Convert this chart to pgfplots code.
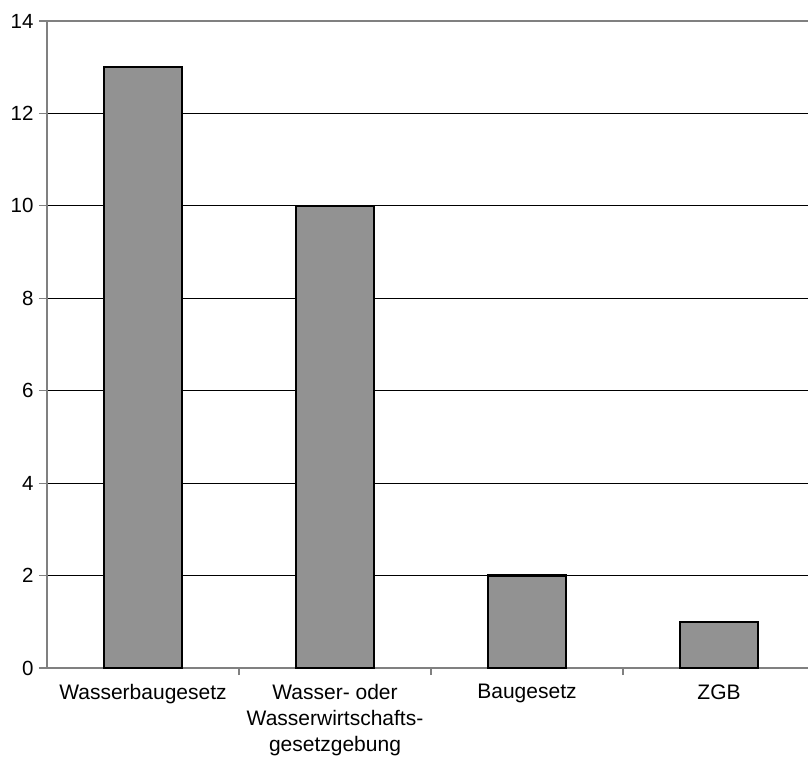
\documentclass[border=0pt]{standalone}
\usepackage{fontspec}
\setmainfont{Liberation Sans}
\usepackage{pgfplots}
\pgfplotsset{compat=1.18}
\definecolor{barfill}{RGB}{146,146,146}
\definecolor{axisgray}{RGB}{128,128,128}
\begin{document}
\begin{tikzpicture}
  \path[use as bounding box] (-47pt,-92pt) rectangle (761pt,668pt);
  \begin{axis}[
      at={(0pt,0pt)}, anchor=south west,
      scale only axis,
      width=761pt, height=647pt,
      xmin=-0.5, xmax=3.4635,
      ymin=0, ymax=14,
      axis x line*=bottom, axis y line*=left,
      axis line style={axisgray, line width=1.4pt, -},
      ybar, bar width=78pt,
      xtick={0,1,2,3},
      xticklabels={Wasserbaugesetz, {Wasser- oder\\Wasserwirtschafts-\\gesetzgebung}, Baugesetz, ZGB},
      major x tick style={draw=none},
      minor xtick={0.5,1.5,2.5},
      minor x tick style={draw=axisgray, line width=1.2pt},
      minor tick length=7pt,
      ytick={0,2,...,12},
      extra y ticks={14},
      extra y tick style={grid style={axisgray, line width=1.4pt}},
      ymajorgrids,
      grid style={black, line width=0.8pt},
      tick align=outside,
      major tick length=8pt,
      y tick style={axisgray, line width=1.2pt},
      xticklabel style={align=center, font=\fontsize{21}{26}\selectfont, yshift=-5pt},
      yticklabel style={font=\fontsize{20.5}{24}\selectfont, xshift=-2pt},
      /pgf/number format/assume math mode=true,
    ]
    \addplot[fill=barfill, draw=black, line width=2.3pt] coordinates {
      (0,13) (1,10) (2,2) (3,1)
    };
  \end{axis}
\end{tikzpicture}
\end{document}
